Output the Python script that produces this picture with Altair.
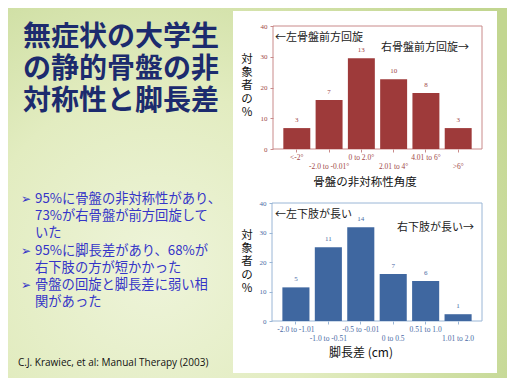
import json
import altair as alt
import pandas as pd

W, H = 499, 370

title_lines = ["無症状の大学生", "の静的骨盤の非", "対称性と脚長差"]
bullets = [["95%に骨盤の非対称性があり、", "73%が右骨盤が前方回旋して", "いた"],
           ["95%に脚長差があり、68%が", "右下肢の方が短かかった"],
           ["骨盤の回旋と脚長差に弱い相", "関があった"]]
bullet_mark = "➢"
citation = "C.J. Krawiec, et al: Manual Therapy (2003)"

pelvis_cats = ["<-2°", "-2.0 to -0.01°", "0 to 2.0°", "2.01 to 4°", "4.01 to 6°", ">6°"]
pelvis_counts = [3, 7, 13, 10, 8, 3]
pelvis_pct = [6.8, 15.9, 29.5, 22.7, 18.2, 6.8]
pelvis_title = "骨盤の非対称性角度"
pelvis_notes = ["←左骨盤前方回旋", "右骨盤前方回旋→"]

leg_cats = ["-2.0 to -1.01", "-1.0 to -0.51", "-0.5 to -0.01", "0 to 0.5", "0.51 to 1.0", "1.01 to 2.0"]
leg_counts = [5, 11, 14, 7, 6, 1]
leg_pct = [11.4, 25.0, 31.8, 15.9, 13.6, 2.3]
leg_title = "脚長差 (cm)"
leg_notes = ["←左下肢が長い", "右下肢が長い→"]

y_title = "対象者の%"
y_ticks = [0, 10, 20, 30, 40]

CJK = "Noto Sans CJK JP"
one = pd.DataFrame({"k": [0]})


def rect(x0, x1, y0, y1, **kw):
    return alt.Chart(one).mark_rect(**kw).encode(
        x=alt.value(x0), x2=alt.value(x1), y=alt.value(y0), y2=alt.value(y1))


def text(txt, x, y, **kw):
    return alt.Chart(pd.DataFrame({"t": [txt]})).mark_text(lineBreak="\n", **kw).encode(
        x=alt.value(x), y=alt.value(y), text="t:N")


def bar_panel(cats, pct, counts, x0, x1, ytop, ybot, bar_color, line_color, lab_color):
    df = pd.DataFrame({"cat": cats, "pct": pct, "n": counts})
    odd = cats[1::2]
    test = "indexof(" + json.dumps(odd, ensure_ascii=False) + ", datum.value) >= 0"
    x = alt.X("cat:N",
              scale=alt.Scale(domain=cats, range=[x0, x1], paddingInner=0.165, paddingOuter=0.32),
              axis=alt.Axis(orient="bottom", offset=ybot - H, title=None, domain=False, zindex=2,
                            ticks=True, tickSize=3, tickColor=line_color, labelAngle=0,
                            labelFont="Liberation Serif", labelFontSize=7.5, labelColor=lab_color,
                            labelBaseline="top", labelOverlap=False, labelBound=False,
                            labelPadding={"condition": {"test": test, "value": 10}, "value": 1}))
    y = alt.Y("pct:Q",
              scale=alt.Scale(domain=[0, 40], range=[ybot, ytop], nice=False, zero=True),
              axis=alt.Axis(orient="left", offset=-x0, values=y_ticks, title=None, grid=False,
                            domain=False, tickSize=3, tickColor=line_color, zindex=2,
                            labelFont="Liberation Serif", labelFontSize=7, labelColor=lab_color,
                            labelPadding=3))
    bars = alt.Chart(df).mark_bar(color=bar_color).encode(x=x, y=y)
    labels = alt.Chart(df).mark_text(dy=-8, font="Liberation Serif", fontSize=7,
                                     color=lab_color).encode(x=x, y=y, text="n:Q")
    frame = rect(x0, x1, ytop, ybot, fillOpacity=0, stroke=line_color, strokeWidth=1)
    return [alt.layer(bars, labels), frame]


bg = rect(0, W, 0, H, fill={
    "gradient": "radial", "x1": 0.3, "y1": 0.65, "r1": 0, "x2": 0.3, "y2": 0.65, "r2": 0.8,
    "stops": [{"offset": 0, "color": "#eef4da"}, {"offset": 0.45, "color": "#e2ecc0"},
              {"offset": 1, "color": "#c2d690"}]})
panel = rect(225, 489, 3, 365, fill="white")

title_txt = "\n".join(title_lines)
title = text(title_txt, 15, 16, font=CJK, fontSize=28, fontWeight="bold",
             lineHeight=32, align="left", baseline="top", color="#1c2b6e")

LH = 17.2
bullet_layers = []
row = 0
for lines in bullets:
    ytop = 184 + row * LH
    bullet_layers.append(text(bullet_mark, 13, ytop + 7, font="DejaVu Sans", fontSize=12,
                              align="left", baseline="middle", color="#3535c8"))
    bullet_layers.append(text("\n".join(lines), 27, ytop, font=CJK, fontSize=13.3, lineHeight=LH,
                              align="left", baseline="top", color="#3535c8"))
    row += len(lines)

cite = text(citation, 10, 355, font="Open Sans", fontSize=10, align="left",
            baseline="middle", color="#111111")

p1 = bar_panel(pelvis_cats, pelvis_pct, pelvis_counts, 265, 474, 18, 141,
               "#9e3a3a", "#c98a8a", "#a04848")
p2 = bar_panel(leg_cats, leg_pct, leg_counts, 264, 474, 195, 313,
               "#3f67a0", "#9ab6d6", "#4a6aa5")

ytitle_txt = "\n".join(list(y_title))
yt1 = text(ytitle_txt, 239, 46, font=CJK, fontSize=11.5, lineHeight=13.2, align="center",
           baseline="top", color="#111111")
yt2 = text(ytitle_txt, 239, 222, font=CJK, fontSize=11.5, lineHeight=13.2, align="center",
           baseline="top", color="#111111")
xt1 = text(pelvis_title, 357, 175, font=CJK, fontSize=11.5, align="center",
           baseline="middle", color="#111111")
xt2 = text(leg_title, 353, 345, font=CJK, fontSize=12, align="center",
           baseline="middle", color="#111111")

n1a = text(pelvis_notes[0], 267, 30, font=CJK, fontSize=11, align="left", baseline="middle", color="#222222")
n1b = text(pelvis_notes[1], 461, 40, font=CJK, fontSize=11, align="right", baseline="middle", color="#222222")
n2a = text(leg_notes[0], 267, 207, font=CJK, fontSize=11, align="left", baseline="middle", color="#222222")
n2b = text(leg_notes[1], 466, 220, font=CJK, fontSize=11, align="right", baseline="middle", color="#222222")

chart = alt.layer(
    bg, panel, title, *bullet_layers, cite,
    p1[1], p1[0], p2[1], p2[0],
    yt1, yt2, xt1, xt2, n1a, n1b, n2a, n2b,
).resolve_scale(x="independent", y="independent").properties(
    width=W, height=H, autosize=alt.AutoSizeParams(type="none"), padding=0
).configure_view(stroke=None)

chart.save("out.html", embed_options={"renderer": "svg", "actions": False})
